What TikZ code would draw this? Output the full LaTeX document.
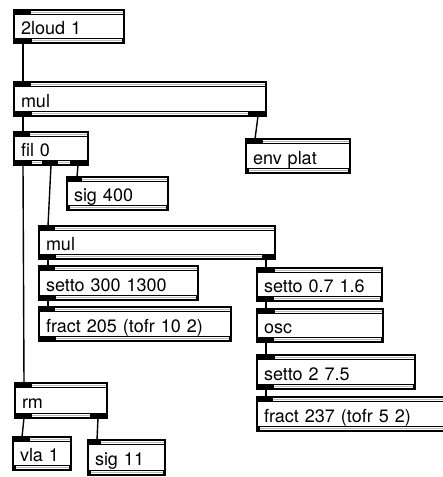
\documentclass[tikz,border=0pt]{standalone}
\usepackage{fontspec}
\setmainfont{TeX Gyre Heros}
\newcommand\objfont{\fontsize{18}{20}\selectfont}
\tikzset{
 obj/.style={draw, line width=1.4pt, rectangle, anchor=north west, inner xsep=7pt, inner ysep=0pt, outer sep=0pt, text height=19pt, text depth=3pt, align=left, font=\objfont},
 stripe/.style={draw=white, line width=0.7pt, double=gray!55, double distance=0.7pt},
 wire/.style={line width=1.4pt}
}
\newcommand\objdeco[3]{%
 \fill (#1.north west) rectangle ([yshift=-5pt]#1.north east);
 \draw[stripe] ([xshift=#2pt,yshift=-2.5pt]#1.north west) -- ([xshift=-1.5pt,yshift=-2.5pt]#1.north east);
 \fill ([yshift=5pt]#1.south west) rectangle (#1.south east);
 \foreach \a/\b in {#3} {\draw[stripe] ([xshift=\a pt,yshift=2.5pt]#1.south west) -- ([xshift=\b pt,yshift=2.5pt]#1.south west);}
}
\begin{document}
\begin{tikzpicture}[x=1pt,y=-1pt]
\useasboundingbox[fill=white] (0,0) rectangle (443,477);
\node[obj, minimum height=33pt, text width=96pt] (loud) at (14,10) {2loud 1};
\node[obj, minimum height=34pt, text width=238pt] (mulA) at (14,82) {mul};
\node[obj, minimum height=33pt, text width=60pt] (fil) at (14,132) {fil 0};
\node[obj, minimum height=34pt, text width=90pt] (env) at (246,139) {env plat};
\node[obj, minimum height=33pt, text width=87pt] (sigA) at (67,177) {sig 400};
\node[obj, minimum height=33pt, text width=222pt] (mulB) at (39,226) {mul};
\node[obj, minimum height=34pt, text width=145pt] (setA) at (39,266) {setto 300 1300};
\node[obj, minimum height=34pt, text width=178pt] (fractA) at (39,307) {fract 205 (tofr 10 2)};
\node[obj, minimum height=33pt, text width=111pt] (setB) at (257,268) {setto 0.7 1.6};
\node[obj, minimum height=33pt, text width=112pt] (osc) at (257,309) {osc};
\node[obj, minimum height=34pt, text width=144pt] (setC) at (257,355) {setto 2 7.5};
\node[obj, minimum height=34pt, text width=184pt] (fractB) at (257,397) {fract 237 (tofr 5 2)};
\node[obj, minimum height=35pt, text width=78pt] (rm) at (15,383) {rm};
\node[obj, minimum height=33pt, text width=44pt] (vla) at (13,437) {vla 1};
\node[obj, minimum height=35pt, text width=63pt] (sigB) at (88,440) {sig 11};
\objdeco{loud}{17}{18/108}
\objdeco{mulA}{17}{18/234}
\objdeco{fil}{16}{18/28,44/56}
\objdeco{env}{17}{3/102}
\objdeco{sigA}{15}{3/99}
\objdeco{mulB}{16}{17/223}
\objdeco{setA}{16}{17/157}
\objdeco{fractA}{16}{17/190}
\objdeco{setB}{18}{17/123}
\objdeco{osc}{18}{17/124}
\objdeco{setC}{18}{17/156}
\objdeco{fractB}{16}{3/200}
\objdeco{rm}{17}{17/75}
\objdeco{vla}{17}{3/56}
\objdeco{sigB}{13}{3/75}
\draw[wire] ([xshift=9pt]loud.south west) -- ([xshift=9pt]mulA.north west);
\draw[wire] ([xshift=9pt]mulA.south west) -- ([xshift=9pt]fil.north west);
\draw[wire] ([xshift=-8pt]mulA.south east) -- ([xshift=9pt]env.north west);
\draw[wire] ([xshift=9pt]fil.south west) -- ([xshift=9pt]rm.north west);
\draw[wire] ([xshift=37pt]fil.south west) -- ([xshift=9pt]mulB.north west);
\draw[wire] ([xshift=64pt]fil.south west) -- ([xshift=10pt]sigA.north west);
\draw[wire] ([xshift=9pt]mulB.south west) -- ([xshift=9pt]setA.north west);
\draw[wire] ([xshift=9pt]setA.south west) -- ([xshift=9pt]fractA.north west);
\draw[wire] ([xshift=-9pt]mulB.south east) -- ([xshift=9pt]setB.north west);
\draw[wire] ([xshift=9pt]setB.south west) -- ([xshift=9pt]osc.north west);
\draw[wire] ([xshift=9pt]osc.south west) -- ([xshift=9pt]setC.north west);
\draw[wire] ([xshift=9pt]setC.south west) -- ([xshift=9pt]fractB.north west);
\draw[wire] ([xshift=9pt]rm.south west) -- ([xshift=9pt]vla.north west);
\draw[wire] ([xshift=-9pt]rm.south east) -- ([xshift=9pt]sigB.north west);
\end{tikzpicture}
\end{document}
